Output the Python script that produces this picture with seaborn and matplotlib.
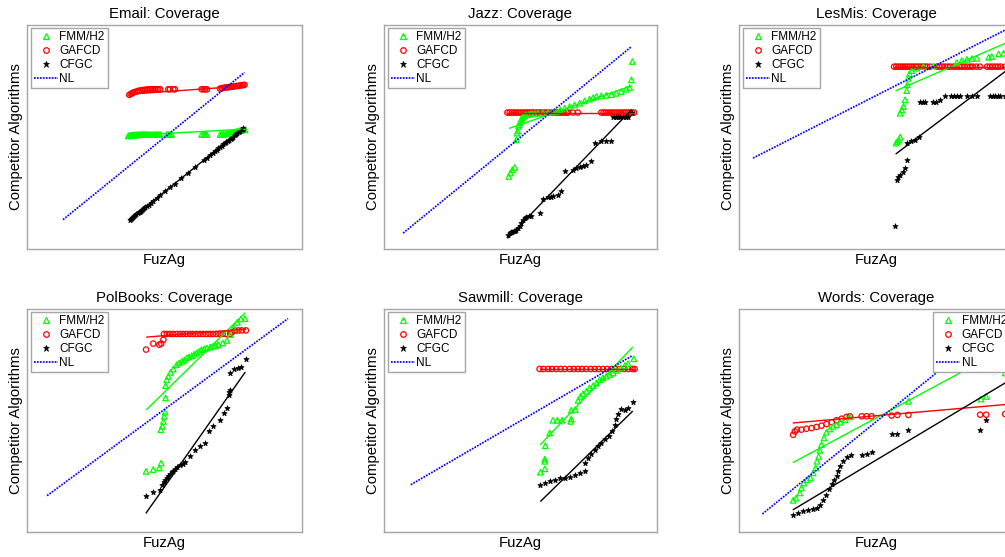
import numpy as np
import pandas as pd
import matplotlib
matplotlib.use("Agg")
import matplotlib.pyplot as plt
from matplotlib.lines import Line2D
import seaborn as sns

# ---------------- data (arbitrary units, no ticks on the original) ----------------
titles = ["Email: Coverage", "Jazz: Coverage", "LesMis: Coverage",
          "PolBooks: Coverage", "Sawmill: Coverage", "Words: Coverage"]
series_names = ["FMM/H2", "GAFCD", "CFGC", "NL"]

# Email
email_fmm_x = [36.8, 37.2, 37.6, 38.0, 38.4, 38.8, 39.2, 39.6, 40.0, 40.4, 40.8, 41.2,
               41.6, 42.0, 42.4, 42.8, 43.2, 43.6, 44.0, 44.7, 45.3, 45.9, 46.5, 47.1, 47.8, 48.4,
               50.8, 51.4, 52.0, 52.6, 63.5, 64.2, 64.8, 65.4,
               70.2, 70.8, 71.4, 72.1, 72.7, 73.3, 73.9, 74.5, 75.1, 75.7, 76.3, 76.9, 77.5, 78.1, 78.7, 79.3]
email_fmm_y = [50.5, 50.6, 50.7, 50.8, 50.8, 50.9, 50.9, 51.0, 51.0, 51.0, 51.0, 51.1,
               51.1, 51.1, 51.1, 51.1, 51.1, 51.1, 51.1, 51.1, 51.1, 51.1, 51.1, 51.1, 51.1, 51.1,
               51.1, 51.1, 51.1, 51.1, 51.1, 51.1, 51.1, 51.1,
               51.1, 51.2, 51.2, 51.3, 51.4, 51.5, 51.7, 51.9, 52.1, 52.3, 52.5, 52.7, 52.9, 53.1, 53.2, 53.3]
email_gaf_x = [37.2, 37.7, 38.2, 38.6, 39.2, 39.9, 40.5, 41.1, 41.7, 42.3, 42.9, 43.5, 44.1, 44.7, 45.3, 45.9, 46.5,
               47.1, 47.7, 48.4, 51.4, 52.0, 53.2, 53.8, 63.5, 64.2, 64.8, 65.4, 70.2, 70.8, 71.4, 72.1, 72.7, 73.3,
               73.9, 74.5, 75.1, 75.7, 76.3, 76.9, 77.5, 78.1, 78.6, 79.1]
email_gaf_y = [68.8, 69.2, 69.5, 69.8, 70.1, 70.3, 70.6, 70.7, 70.9, 71.0, 71.0, 71.2, 71.2, 71.3, 71.3, 71.3, 71.3,
               71.3, 71.3, 71.3, 71.3, 71.3, 71.3, 71.3, 71.3, 71.3, 71.3, 71.3, 71.6, 71.8, 71.9, 72.1, 72.2, 72.2,
               72.4, 72.5, 72.5, 72.7, 72.8, 72.8, 73.0, 73.1, 73.2, 73.3]
email_cfg_x = [37.4, 37.8, 38.2, 38.6, 39.0, 39.4, 39.8, 40.2, 40.6, 41.0, 41.4, 41.8, 42.2, 42.6, 43.0, 43.5,
               44.2, 45.0, 45.9, 47.2, 48.4, 50.2, 52.0, 53.8, 56.0, 58.5, 61.0, 64.2, 65.4, 66.5, 67.5, 68.3,
               69.0, 69.6, 70.2, 70.8, 71.4, 72.0, 72.5, 73.0, 73.5, 74.0, 74.5, 75.0, 75.5, 76.0, 76.5, 77.0,
               77.5, 78.0, 78.4, 78.7]
email_cfg_y = [13.1, 13.5, 13.9, 14.3, 14.7, 15.1, 15.5, 15.9, 16.3, 16.7, 17.1, 17.5, 17.9, 18.3, 18.7, 19.1,
               19.8, 20.6, 21.5, 22.8, 24.0, 25.7, 27.5, 29.2, 31.5, 34.0, 36.5, 39.6, 40.7, 41.8, 42.8, 43.6,
               44.3, 44.9, 45.5, 46.1, 46.7, 47.3, 47.7, 48.2, 48.7, 49.2, 49.7, 50.2, 50.7, 51.2, 51.7, 52.2,
               52.7, 53.2, 53.6, 53.9]
email_fit_x = [[36.8, 79.3], [37.2, 79.3], [37.4, 78.7]]
email_fit_y = [[50.7, 53.5], [69.1, 72.8], [13.1, 53.9]]
email_nl_x = [13.1, 79.1]
email_nl_y = [13.1, 78.8]

# Jazz
jazz_fmm_x = [45.7, 46.3, 47.0, 47.9, 48.5, 48.7, 49.0, 49.3, 49.6, 49.8, 50.1, 50.3, 50.6, 50.9, 51.5, 52.1,
              53.0, 54.0, 55.2, 56.4, 58.2, 60.1, 61.6, 63.1, 64.6, 66.2, 68.0, 69.8, 71.7, 73.5, 75.3, 76.6,
              77.8, 79.6, 81.4, 83.3, 85.1, 86.9, 88.8, 90.0, 90.6, 91.0]
jazz_fmm_y = [32.4, 33.9, 35.4, 36.4, 48.7, 51.7, 52.7, 54.7, 55.6, 56.5, 57.2, 57.9, 58.5, 59.1, 59.5, 59.9,
              60.1, 60.3, 60.5, 60.6, 60.7, 60.9, 61.1, 61.4, 62.1, 62.9, 63.6, 64.3, 65.1, 66.1, 66.9, 67.6,
              68.1, 68.4, 68.6, 68.9, 69.5, 70.3, 71.3, 72.1, 75.5, 83.7]
jazz_gaf_x = [45.2, 46.0, 46.8, 47.6, 48.4, 49.2, 50.0, 50.8, 51.6, 52.4, 53.2, 54.0, 54.8, 55.6, 56.4, 57.2,
              58.0, 58.8, 59.6, 60.4, 61.2, 62.0, 62.8, 63.6, 64.4, 65.2, 66.0, 66.8, 67.4, 69.2, 71.0, 79.6,
              80.4, 81.2, 82.0, 82.8, 83.6, 84.4, 85.2, 86.0, 86.8, 87.6, 88.4, 89.2, 90.0, 90.8, 91.6]
jazz_gaf_y = [60.9] * 47
jazz_cfg_x = [45.4, 46.0, 46.6, 47.0, 47.5, 48.0, 48.5, 49.1, 49.7, 50.3, 50.9, 51.5, 52.1, 53.0, 54.0, 57.0,
              58.2, 60.1, 61.0, 62.0, 63.7, 65.0, 66.2, 69.2, 70.5, 71.7, 72.9, 74.1, 76.0, 77.2, 79.6, 81.4,
              83.3, 83.9, 84.8, 85.7, 86.6, 87.5, 88.5, 89.4, 91.0]
jazz_cfg_y = [6.4, 7.1, 7.6, 7.8, 7.9, 8.2, 8.6, 9.2, 10.1, 11.5, 13.1, 13.7, 14.3, 14.6, 14.9, 16.0,
              22.3, 23.0, 23.3, 23.8, 24.2, 25.7, 34.6, 35.4, 36.0, 36.8, 37.2, 37.6, 39.1, 47.3, 48.0, 48.0,
              48.0, 59.1, 59.1, 59.1, 59.1, 59.1, 59.1, 59.1, 60.6]
jazz_fit_x = [[46.0, 90.6], [45.2, 91.6], [45.4, 90.6]]
jazz_fit_y = [[53.9, 72.8], [60.9, 60.9], [4.9, 62.1]]
jazz_nl_x = [7.0, 90.6]
jazz_nl_y = [7.1, 90.3]

# LesMis
lesmis_fmm_x = [57.1, 57.6, 58.1, 58.6, 58.6, 59.2, 59.8, 60.4, 61.0, 61.2, 61.6, 62.0, 62.8, 64.6, 67.1, 70.7,
                79.2, 81.0, 82.9, 84.7, 86.5, 90.8, 91.9, 94.4, 96.2, 98.5]
lesmis_fmm_y = [47.3, 48.0, 48.7, 49.9, 60.6, 62.1, 63.6, 66.6, 70.7, 73.3, 76.2, 78.2, 79.6, 80.7, 81.4, 81.7,
                83.2, 84.1, 84.7, 85.0, 85.1, 85.6, 85.9, 87.1, 87.4, 88.0]
lesmis_gaf_x = [56.4, 57.2, 58.0, 58.8, 59.6, 60.4, 61.2, 62.0, 62.8, 63.6, 64.4, 65.2, 66.0, 66.8, 67.6, 68.4,
                69.5, 71.9, 72.9, 73.9, 74.9, 75.9, 76.8, 78.0, 79.0, 80.0, 81.0, 82.0, 83.0, 84.1, 85.0, 86.3,
                87.6, 90.2, 91.2, 92.2, 93.2, 94.2, 95.2, 96.8, 98.5]
lesmis_gaf_y = [81.4] * 41
lesmis_cfg_x = [56.9, 57.4, 57.8, 58.6, 59.5, 60.4, 61.2, 61.2, 62.5, 64.0, 65.6, 65.9, 66.8, 67.7, 70.7, 71.5,
                73.1, 75.0, 77.2, 78.0, 79.2, 80.4, 82.9, 84.7, 86.5, 91.4, 92.3, 93.2, 94.1, 95.0, 96.8]
lesmis_cfg_y = [10.4, 30.9, 32.1, 33.1, 34.2, 36.1, 39.8, 47.3, 48.0, 48.7, 49.9, 65.8, 65.8, 65.8, 65.8, 65.8,
                66.3, 68.1, 68.1, 68.1, 68.1, 68.1, 68.1, 68.1, 68.4, 68.1, 68.1, 68.1, 68.1, 68.1, 68.1]
lesmis_fit_x = [[57.1, 100.0], [56.4, 100.0], [57.1, 100.0]]
lesmis_fit_y = [[70.7, 93.5], [81.4, 81.4], [42.5, 82.2]]
lesmis_nl_x = [5.1, 98.0]
lesmis_nl_y = [40.6, 98.5]

# PolBooks
polbooks_fmm_x = [43.3, 45.9, 48.1, 48.8, 48.7, 49.2, 49.6, 49.9, 50.2, 50.4, 50.4, 50.8, 51.4, 52.2, 53.2, 54.4,
                  55.3, 56.3, 57.2, 58.1, 59.0, 59.9, 60.8, 61.7, 62.6, 63.5, 64.5, 65.4, 66.6, 67.8, 68.7, 69.6,
                  71.2, 72.7, 73.9, 75.1, 76.5, 77.8, 79.3]
polbooks_fmm_y = [27.2, 28.0, 28.7, 30.9, 45.9, 47.4, 49.6, 51.9, 53.7, 60.1, 65.6, 68.3, 69.8, 71.6, 73.1, 75.0,
                  75.8, 76.5, 77.2, 78.0, 78.5, 79.1, 79.7, 80.3, 81.0, 81.8, 82.1, 82.5, 82.9, 83.3, 83.6, 84.0,
                  84.8, 85.9, 88.5, 91.5, 94.0, 95.5, 95.7]
polbooks_gaf_x = [43.3, 45.9, 48.1, 48.8, 49.6, 49.8, 50.8, 52.0, 53.2, 54.4, 55.6, 56.8, 58.0, 59.2, 60.4, 61.6,
                  62.8, 64.0, 65.2, 66.4, 67.6, 68.8, 70.0, 71.2, 72.4, 73.9, 74.5, 75.7, 76.9, 78.1, 79.6]
polbooks_gaf_y = [81.8, 84.5, 84.0, 84.5, 86.2, 88.8, 88.8, 88.8, 88.8, 88.8, 88.8, 88.8, 88.8, 88.8, 88.8, 88.8,
                  88.8, 88.8, 88.8, 88.8, 88.8, 88.8, 88.8, 88.8, 88.8, 88.8, 89.5, 90.3, 90.4, 90.4, 90.4]
polbooks_cfg_x = [43.3, 45.9, 48.4, 49.2, 49.7, 50.2, 50.8, 51.4, 52.0, 52.6, 53.2, 53.8, 54.7, 55.7, 56.6, 57.5,
                  59.3, 61.1, 62.9, 64.8, 66.0, 67.8, 70.2, 71.7, 72.7, 73.3, 73.6, 73.9, 73.9, 75.1, 76.9, 77.8,
                  79.6]
polbooks_cfg_y = [16.0, 17.9, 19.0, 21.2, 22.4, 23.5, 24.3, 25.0, 25.9, 26.8, 27.5, 28.3, 29.1, 29.9, 30.5, 31.2,
                  33.9, 36.6, 38.4, 39.9, 45.1, 47.4, 50.4, 53.4, 55.6, 61.6, 62.8, 63.8, 71.3, 73.1, 73.5, 74.0,
                  77.6]
polbooks_fit_x = [[43.5, 79.3], [43.5, 79.6], [43.3, 79.3]]
polbooks_fit_y = [[54.9, 98.2], [87.4, 91.0], [8.5, 71.6]]
polbooks_nl_x = [7.3, 94.9]
polbooks_nl_y = [16.3, 95.7]

# Sawmill
sawmill_fmm_x = [57.3, 58.9, 58.9, 58.9, 59.1, 60.7, 61.9, 63.5, 65.2, 68.4, 68.6, 68.6, 70.1, 71.1, 72.0, 72.9,
                 74.1, 75.3, 76.6, 77.8, 79.0, 80.2, 81.4, 82.7, 83.9, 85.1, 86.7, 88.2, 89.4, 91.5]
sawmill_fmm_y = [26.8, 28.3, 31.7, 32.7, 38.7, 44.4, 50.1, 50.1, 50.1, 49.6, 50.7, 54.6, 54.9, 59.0, 60.8, 62.0,
                 63.1, 64.6, 65.6, 66.8, 68.3, 69.1, 69.8, 70.6, 71.3, 72.5, 73.5, 74.6, 75.5, 77.7]
sawmill_gaf_x = [57.0, 58.4, 60.1, 61.5, 63.1, 64.7, 66.2, 68.0, 69.5, 71.0, 72.5, 74.1, 75.7, 77.2, 78.6, 80.2,
                 81.7, 83.3, 84.7, 86.3, 87.9, 89.4, 91.0, 91.8]
sawmill_gaf_y = [73.1] * 24
sawmill_cfg_x = [57.3, 58.9, 60.7, 62.5, 64.3, 66.2, 68.0, 69.8, 71.7, 73.5, 73.5, 74.7, 75.9, 77.2, 78.4, 79.6,
                 81.1, 82.3, 83.5, 84.5, 85.1, 85.7, 86.9, 88.2, 89.4, 91.2]
sawmill_cfg_y = [21.2, 22.0, 22.7, 23.5, 24.2, 24.2, 24.7, 25.4, 26.5, 27.2, 30.9, 33.2, 35.1, 36.9, 38.4, 39.9,
                 41.7, 43.2, 45.1, 48.1, 50.7, 53.1, 55.2, 54.6, 55.6, 58.1]
sawmill_fit_x = [[57.3, 91.0], [57.0, 91.8], [57.4, 91.0]]
sawmill_fit_y = [[39.2, 82.8], [73.1, 73.1], [13.8, 54.1]]
sawmill_nl_x = [9.8, 91.0]
sawmill_nl_y = [21.2, 79.1]

# Words
words_fmm_x = [19.7, 20.7, 22.1, 22.7, 23.6, 24.8, 26.0, 27.0, 27.9, 28.4, 29.0, 29.4, 30.0, 30.9, 31.8, 33.0,
               34.3, 35.5, 36.9, 38.5, 40.3, 61.6, 88.0, 89.9, 96.8]
words_fmm_y = [14.2, 15.2, 17.5, 19.7, 22.0, 23.5, 24.2, 26.5, 28.7, 31.7, 33.9, 36.6, 39.2, 42.2, 44.7, 46.2,
               47.4, 48.1, 49.2, 50.4, 51.6, 58.6, 59.6, 60.8, 71.3]
words_gaf_x = [19.7, 20.3, 21.1, 22.7, 24.5, 26.4, 28.2, 30.0, 31.8, 33.7, 35.5, 37.3, 39.1, 40.3, 44.6, 46.4,
               48.2, 55.5, 57.6, 61.6, 87.7, 89.9, 96.8]
words_gaf_y = [43.6, 45.1, 45.9, 45.9, 46.3, 46.6, 47.1, 47.7, 48.4, 49.2, 50.1, 50.8, 51.6, 51.9, 51.9, 51.9,
               51.9, 52.2, 52.5, 52.5, 52.6, 52.6, 52.9]
words_cfg_x = [19.7, 21.5, 23.3, 25.2, 26.9, 28.2, 29.4, 30.6, 31.8, 32.8, 33.7, 34.5, 35.5, 36.1, 36.9, 37.9,
               39.1, 40.6, 44.6, 46.4, 48.2, 55.5, 57.6, 61.6, 87.7, 89.9]
words_cfg_y = [7.8, 8.5, 9.3, 10.0, 10.3, 10.8, 12.3, 14.5, 16.7, 19.3, 21.7, 23.5, 25.0, 27.2, 29.4, 31.7,
               33.6, 34.7, 34.7, 35.1, 35.7, 44.1, 44.1, 45.6, 45.9, 50.4]
words_fit_x = [[19.7, 100.0], [19.7, 100.0], [19.7, 100.0]]
words_fit_y = [[31.2, 84.3], [48.9, 57.5], [10.0, 69.2]]
words_nl_x = [8.5, 95.0]
words_nl_y = [8.1, 94.6]

panels = [
    (email_fmm_x, email_fmm_y, email_gaf_x, email_gaf_y, email_cfg_x, email_cfg_y, email_fit_x, email_fit_y, email_nl_x, email_nl_y),
    (jazz_fmm_x, jazz_fmm_y, jazz_gaf_x, jazz_gaf_y, jazz_cfg_x, jazz_cfg_y, jazz_fit_x, jazz_fit_y, jazz_nl_x, jazz_nl_y),
    (lesmis_fmm_x, lesmis_fmm_y, lesmis_gaf_x, lesmis_gaf_y, lesmis_cfg_x, lesmis_cfg_y, lesmis_fit_x, lesmis_fit_y, lesmis_nl_x, lesmis_nl_y),
    (polbooks_fmm_x, polbooks_fmm_y, polbooks_gaf_x, polbooks_gaf_y, polbooks_cfg_x, polbooks_cfg_y, polbooks_fit_x, polbooks_fit_y, polbooks_nl_x, polbooks_nl_y),
    (sawmill_fmm_x, sawmill_fmm_y, sawmill_gaf_x, sawmill_gaf_y, sawmill_cfg_x, sawmill_cfg_y, sawmill_fit_x, sawmill_fit_y, sawmill_nl_x, sawmill_nl_y),
    (words_fmm_x, words_fmm_y, words_gaf_x, words_gaf_y, words_cfg_x, words_cfg_y, words_fit_x, words_fit_y, words_nl_x, words_nl_y),
]

# ---------------- styling ----------------
sns.set_style("white")
plt.rcParams["font.family"] = ["Liberation Sans", "DejaVu Sans"]
plt.rcParams["text.color"] = "black"
plt.rcParams["axes.labelcolor"] = "black"

GREEN, RED, BLACK, BLUE = "#00FF00", "#FF0000", "#000000", "#0000FF"
FRAME = "#A6A6A6"
NL_STYLE = (0, (1.0, 0.7))

W, H = 1005, 557
fig = plt.figure(figsize=(W / 100, H / 100), dpi=100)

col_left = [27, 384, 739]
col_w = [275, 273, 275]
row_top = [25, 309]
row_h = [224, 223]

for i, (fx, fy, gx, gy, cx, cy, fitx, fity, nlx, nly) in enumerate(panels):
    r, c = divmod(i, 3)
    left = col_left[c] / W
    bottom = (H - row_top[r] - row_h[r]) / H
    ax = fig.add_axes([left, bottom, col_w[c] / W, row_h[r] / H])

    # points
    sns.scatterplot(x=gx, y=gy, ax=ax, marker="o", s=15, color=RED,
                    facecolor="none", edgecolor=RED, linewidth=0.9, zorder=3)
    sns.scatterplot(x=fx, y=fy, ax=ax, marker="^", s=16, color=GREEN,
                    facecolor="none", edgecolor=GREEN, linewidth=0.9, zorder=3)
    sns.scatterplot(x=cx, y=cy, ax=ax, marker="*", s=15, color=BLACK,
                    edgecolor=BLACK, linewidth=0.6, zorder=3)

    # fitted lines
    for (lx, ly, colr) in zip(fitx, fity, [GREEN, RED, BLACK]):
        sns.lineplot(x=lx, y=ly, ax=ax, color=colr, linewidth=1.0, zorder=4,
                     estimator=None, sort=False)
    # NL reference line
    sns.lineplot(x=nlx, y=nly, ax=ax, color=BLUE, linewidth=1.25,
                 linestyle=NL_STYLE, zorder=4, estimator=None, sort=False)

    ax.set_xlim(0, 100)
    ax.set_ylim(0, 100)
    ax.set_xticks([])
    ax.set_yticks([])
    for sp in ax.spines.values():
        sp.set_visible(True)
        sp.set_color(FRAME)
        sp.set_linewidth(1.0)

    ax.set_title(titles[i], fontsize=10.8, pad=5)
    ax.set_xlabel("FuzAg", fontsize=10.7, labelpad=3)
    ax.set_ylabel("Competitor Algorithms", fontsize=10.7, labelpad=3)

    handles = [
        Line2D([], [], linestyle="none", marker="^", markersize=4, markerfacecolor="none",
               markeredgecolor=GREEN, markeredgewidth=0.9),
        Line2D([], [], linestyle="none", marker="o", markersize=4, markerfacecolor="none",
               markeredgecolor=RED, markeredgewidth=0.9),
        Line2D([], [], linestyle="none", marker="*", markersize=4.5, markerfacecolor=BLACK,
               markeredgecolor=BLACK, markeredgewidth=0.5),
        Line2D([], [], color=BLUE, linewidth=1.25, linestyle=NL_STYLE),
    ]
    if i == 5:
        loc, anchor = "upper right", (0.985, 0.985)
    else:
        loc, anchor = "upper left", (0.015, 0.985)
    leg = ax.legend(handles, series_names, loc=loc, bbox_to_anchor=anchor,
                    borderaxespad=0, fontsize=8.5, frameon=True, fancybox=False,
                    framealpha=1, edgecolor=FRAME, handlelength=2.0,
                    handletextpad=0.15, labelspacing=0.16, borderpad=0.25)
    leg.get_frame().set_linewidth(1.0)
    leg.set_zorder(10)

fig.savefig("out.png", dpi=100)
